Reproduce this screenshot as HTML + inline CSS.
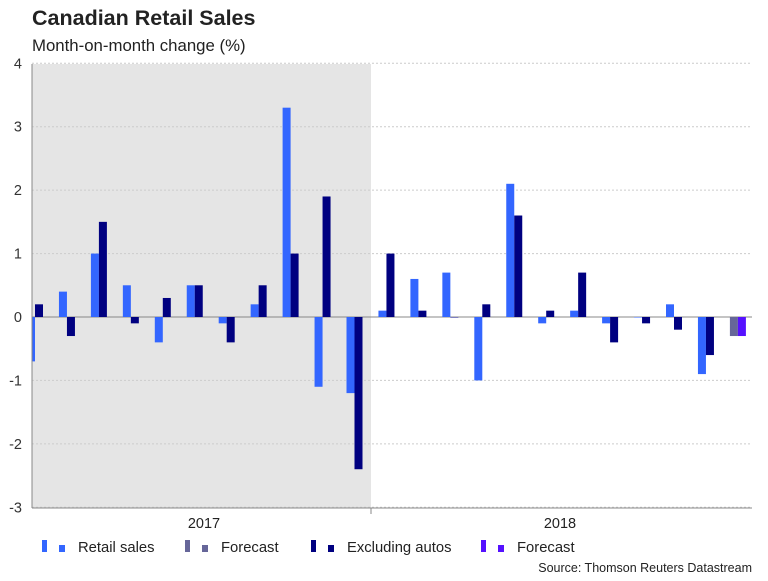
<!DOCTYPE html>
<html><head><meta charset="utf-8"><style>
body{margin:0;background:#fff;font-family:"Liberation Sans",sans-serif;}
svg text{font-family:"Liberation Sans",sans-serif;}
</style></head><body>
<svg id="c" width="768" height="576" xmlns="http://www.w3.org/2000/svg">
<text x="32" y="25" font-size="21.5" font-weight="bold" fill="#222">Canadian Retail Sales</text>
<text x="32" y="51" font-size="16.8" fill="#222">Month-on-month change (%)</text>
<defs><clipPath id="pc"><rect x="32" y="60" width="720" height="452"/></clipPath></defs>
<rect x="32" y="64" width="339" height="444" fill="#e5e5e5"/>
<g id="grid"></g>
<g id="bars" clip-path="url(#pc)"></g>
<line x1="32" y1="64" x2="32" y2="508" stroke="#888"/>
<line x1="32" y1="508" x2="752" y2="508" stroke="#888"/>
<line x1="371" y1="508" x2="371" y2="514" stroke="#888"/>
<text x="204" y="528" font-size="14.5" text-anchor="middle" fill="#222">2017</text>
<text x="560" y="528" font-size="14.5" text-anchor="middle" fill="#222">2018</text>
<g>
<rect x="42" y="540" width="5" height="12" fill="#3366ff"/><rect x="59" y="545" width="6" height="7" fill="#3366ff"/>
<text x="78" y="552" font-size="14.8" fill="#222">Retail sales</text>
<rect x="185" y="540" width="5" height="12" fill="#666699"/><rect x="202" y="545" width="6" height="7" fill="#666699"/>
<text x="221" y="552" font-size="14.8" fill="#222">Forecast</text>
<rect x="311" y="540" width="5" height="12" fill="#000080"/><rect x="328" y="545" width="6" height="7" fill="#000080"/>
<text x="347" y="552" font-size="14.8" fill="#222">Excluding autos</text>
<rect x="481" y="540" width="5" height="12" fill="#5511ff"/><rect x="498" y="545" width="6" height="7" fill="#5511ff"/>
<text x="517" y="552" font-size="14.8" fill="#222">Forecast</text>
</g>
<text x="752" y="572" font-size="12.5" text-anchor="end" fill="#222">Source: Thomson Reuters Datastream</text>
</svg>
<script>
const retail=[-0.7,0.4,1.0,0.5,-0.4,0.5,-0.1,0.2,3.3,-1.1,-1.2,0.1,0.6,0.7,-1.0,2.1,-0.1,0.1,-0.1,0.0,0.2,-0.9];
const exAutos=[0.2,-0.3,1.5,-0.1,0.3,0.5,-0.4,0.5,1.0,1.9,-2.4,1.0,0.1,0.0,0.2,1.6,0.1,0.7,-0.4,-0.1,-0.2,-0.6];
const retailForecast=[-0.3];
const exAutosForecast=[-0.3];
const yTicks=[4,3,2,1,0,-1,-2,-3];
const NS="http://www.w3.org/2000/svg";
function y(v){return 317-v*63.43;}
function x(i){return 27+i*31.95;}
const grid=document.getElementById('grid'),bars=document.getElementById('bars');
yTicks.forEach(t=>{
 const l=document.createElementNS(NS,'line');
 l.setAttribute('x1',32);l.setAttribute('x2',752);l.setAttribute('y1',y(t));l.setAttribute('y2',y(t));
 l.setAttribute('stroke',t===0?'#888':'#ccc');if(t!==0)l.setAttribute('stroke-dasharray','2,2');
 
 
 grid.appendChild(l);
 const tx=document.createElementNS(NS,'text');
 tx.setAttribute('x',22);tx.setAttribute('y',y(t)+5);tx.setAttribute('text-anchor','end');tx.setAttribute('font-size','14.5');tx.setAttribute('fill','#333');
 tx.textContent=t;
 
 
 grid.appendChild(tx);
});
function bar(i,v,off,color,name){
 const r=document.createElementNS(NS,'rect');
 const y0=y(0),y1=y(v);
 r.setAttribute('x',x(i)+off);r.setAttribute('width',8);
 r.setAttribute('y',Math.min(y0,y1));r.setAttribute('height',Math.max(Math.abs(y1-y0),0.5));
 r.setAttribute('fill',color);
 
 
 bars.appendChild(r);
}
retail.forEach((v,i)=>bar(i,v,0,'#3366ff','retail-sales-bar'));
exAutos.forEach((v,i)=>bar(i,v,8,'#000080','excluding-autos-bar'));
retailForecast.forEach((v,k)=>bar(retail.length+k,v,0,'#666699','retail-forecast-bar'));
exAutosForecast.forEach((v,k)=>bar(exAutos.length+k,v,8,'#5511ff','excluding-autos-forecast-bar'));
</script>
</body></html>
